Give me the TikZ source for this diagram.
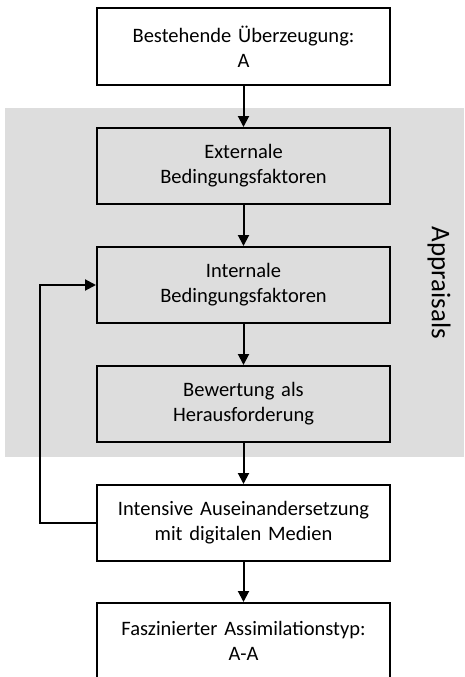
\documentclass[tikz,border=0pt]{standalone}
\usepackage{fontspec}
\setmainfont{Carlito}
\usetikzlibrary{arrows.meta}
\definecolor{panelgray}{HTML}{DDDDDD}
\begin{document}
\begin{tikzpicture}[x=1pt,y=-1pt,
  stepbox/.style={draw=black, line width=2pt, minimum width=293pt, minimum height=76pt,
    text width=285pt, align=center, font=\fontsize{20.5}{25}\selectfont, inner sep=0pt},
  whitebox/.style={stepbox, fill=white},
  flow/.style={line width=2pt, -{Triangle[length=11pt,width=11pt]}}]
  \useasboundingbox (0,0) rectangle (464,677);
  % appraisal panel
  \fill[panelgray] (5,108) rectangle (464,457);
  \node[rotate=-90, font=\fontsize{27}{32}\selectfont] (lbl) at (439,283) {Appraisals};
  % boxes
  \node[whitebox] (b1) at (243.5,46.5) {Bestehende Überzeugung:\\A};
  \node[stepbox] (b2) at (243.5,166) {Externale\\Bedingungsfaktoren};
  \node[stepbox] (b3) at (243.5,285) {Internale\\Bedingungsfaktoren};
  \node[stepbox] (b4) at (243.5,404) {Bewertung als\\Herausforderung};
  \node[whitebox] (b5) at (243.5,523) {Intensive Auseinandersetzung\\mit digitalen Medien};
  \node[whitebox] (b6) at (243.5,641) {Faszinierter Assimilationstyp:\\A-A};
  % connectors
  \draw[flow] (b1) -- (b2);
  \draw[flow] (b2) -- (b3);
  \draw[flow] (b3) -- (b4);
  \draw[flow] (b4) -- (b5);
  \draw[flow] (b5) -- (b6);
  \coordinate (fl) at (40,0);
  \draw[flow] (b5.west) -| (fl |- b3.west) -- (b3.west);
\end{tikzpicture}
\end{document}
